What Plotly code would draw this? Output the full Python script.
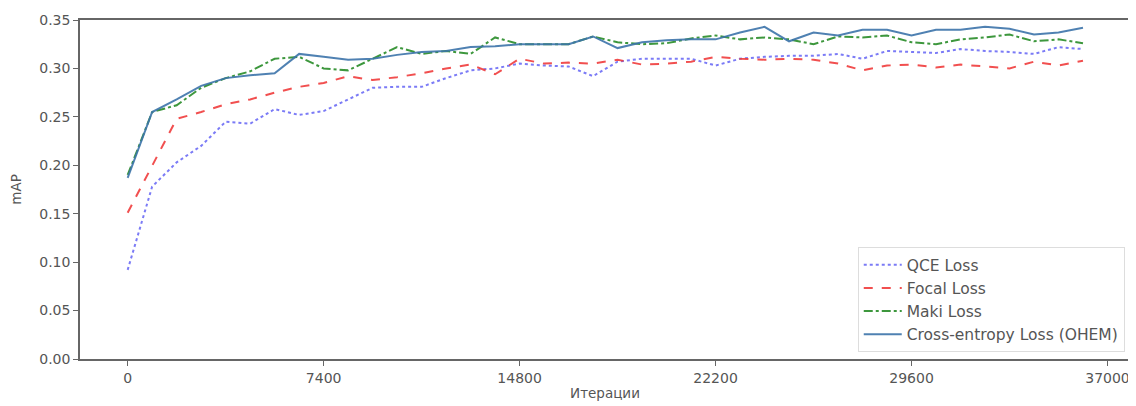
import plotly.graph_objects as go

step = 925
iters = [i * step for i in range(40)]

qce = [0.092, 0.178, 0.203, 0.220, 0.245, 0.243, 0.258, 0.252, 0.256, 0.268,
       0.280, 0.281, 0.281, 0.290, 0.298, 0.300, 0.305, 0.303, 0.302, 0.292,
       0.307, 0.310, 0.310, 0.310, 0.303, 0.310, 0.312, 0.313, 0.313, 0.315,
       0.310, 0.318, 0.317, 0.316, 0.320, 0.318, 0.317, 0.315, 0.322, 0.320]
focal = [0.151, 0.200, 0.248, 0.255, 0.263, 0.268, 0.275, 0.281, 0.285, 0.292,
         0.288, 0.291, 0.295, 0.300, 0.304, 0.294, 0.310, 0.305, 0.306, 0.305,
         0.309, 0.304, 0.305, 0.307, 0.312, 0.310, 0.309, 0.310, 0.309, 0.305,
         0.298, 0.303, 0.304, 0.301, 0.304, 0.302, 0.300, 0.307, 0.303, 0.308]
maki = [0.190, 0.255, 0.262, 0.280, 0.290, 0.297, 0.310, 0.312, 0.300, 0.298,
        0.310, 0.322, 0.315, 0.318, 0.315, 0.332, 0.325, 0.325, 0.325, 0.333,
        0.327, 0.325, 0.326, 0.331, 0.334, 0.330, 0.332, 0.330, 0.325, 0.333,
        0.332, 0.334, 0.327, 0.325, 0.330, 0.332, 0.335, 0.328, 0.330, 0.326]
ce = [0.187, 0.255, 0.268, 0.282, 0.290, 0.293, 0.295, 0.315, 0.312, 0.309,
      0.310, 0.314, 0.317, 0.318, 0.322, 0.323, 0.325, 0.325, 0.325, 0.333,
      0.321, 0.327, 0.329, 0.330, 0.330, 0.337, 0.343, 0.328, 0.337, 0.334,
      0.340, 0.340, 0.334, 0.340, 0.340, 0.343, 0.341, 0.335, 0.337, 0.342]

x_ticks = [0, 7400, 14800, 22200, 29600, 37000]
y_ticks = [0.00, 0.05, 0.10, 0.15, 0.20, 0.25, 0.30, 0.35]

series = [
    ("QCE Loss", qce, "rgba(100,100,245,0.85)", "dot"),
    ("Focal Loss", focal, "rgba(240,60,60,0.9)", "dash"),
    ("Maki Loss", maki, "rgba(40,140,40,0.9)", "dashdot"),
    ("Cross-entropy Loss (OHEM)", ce, "rgba(60,115,170,0.9)", "solid"),
]

fig = go.Figure()
for name, vals, color, dash in series:
    fig.add_trace(go.Scatter(x=iters, y=vals, mode="lines", name=name,
                             line=dict(color=color, width=2, dash=dash)))

axis_common = dict(showgrid=False, zeroline=False, showline=True, linecolor="#666",
                   linewidth=1.5, mirror=True, ticks="outside", ticklen=5,
                   tickcolor="#666", tickfont=dict(family="DejaVu Sans", size=14, color="#555"))

fig.update_layout(
    width=1128, height=398,
    margin=dict(l=72, r=4, t=9, b=47),
    paper_bgcolor="white", plot_bgcolor="white",
    font=dict(family="DejaVu Sans", color="#555"),
    xaxis=dict(range=[-1800, 37850], tickvals=x_ticks, ticktext=[str(v) for v in x_ticks],
               title=dict(text="Итерации", font=dict(size=13.5), standoff=4), **axis_common),
    yaxis=dict(range=[0, 0.35], tickvals=y_ticks, tickformat=".2f",
               title=dict(text="mAP", font=dict(size=13.5), standoff=16), **axis_common),
    legend=dict(x=0.995, y=0.02, xanchor="right", yanchor="bottom",
                bgcolor="white", bordercolor="#ddd", borderwidth=1,
                font=dict(family="DejaVu Sans", size=15.5, color="#555"),
                tracegroupgap=0, itemwidth=38),
    showlegend=True,
)

fig.write_html("out.html")
